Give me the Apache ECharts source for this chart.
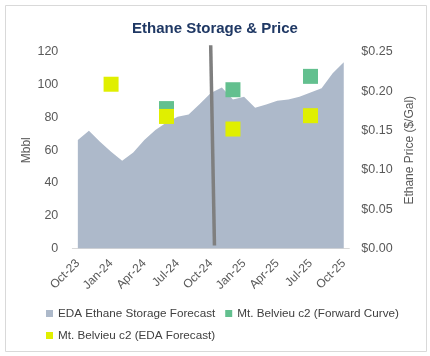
<!DOCTYPE html>
<html>
<head>
<meta charset="utf-8">
<script src="https://cdn.jsdelivr.net/npm/echarts@6/dist/echarts.min.js"></script>
<style>html,body{margin:0;padding:0;background:#fff;}#c{width:430px;height:356px;}</style>
</head>
<body>
<div id="c"></div>
<script>
// ---- data ----
var months = ['Oct-23','Nov-23','Dec-23','Jan-24','Feb-24','Mar-24','Apr-24','May-24','Jun-24','Jul-24','Aug-24','Sep-24','Oct-24','Nov-24','Dec-24','Jan-25','Feb-25','Mar-25','Apr-25','May-25','Jun-25','Jul-25','Aug-25','Sep-25','Oct-25'];
var storage = [66.3, 71.9, 65.2, 59.1, 53.6, 58.7, 66.3, 72.3, 77.0, 80.4, 81.8, 88.3, 95.0, 98.3, 91.0, 92.6, 86.0, 88.0, 90.3, 91.0, 92.6, 95.3, 97.8, 107.0, 113.7];
var fwdMonths = ['Jun-24', 'Dec-24', 'Jul-25'];
var fwdPrices = [0.178, 0.202, 0.219];
var edaMonths = ['Jan-24', 'Jun-24', 'Dec-24', 'Jul-25'];
var edaPrices = [0.209, 0.168, 0.152, 0.169];
var leftTicks = [0, 20, 40, 60, 80, 100, 120];
var rightTicks = [0, 0.05, 0.10, 0.15, 0.20, 0.25];
// divider (month-position units, Mbbl units)
var dividerX = [12.49, 12.83];
var dividerY = [124.1, 1.8];

var fwdData = fwdMonths.map(function (m, i) { return [m, fwdPrices[i]]; });
var edaData = edaMonths.map(function (m, i) { return [m, edaPrices[i]]; });
var dividerData = dividerX.map(function (x, i) { return [x, dividerY[i]]; });

var FONT = 'Liberation Sans';
var chart = echarts.init(document.getElementById('c'), null, { renderer: 'canvas' });
chart.setOption({
  backgroundColor: '#ffffff',
  animation: false,
  textStyle: { fontFamily: FONT },
  title: {
    text: 'Ethane Storage & Price',
    left: 'center', top: 16,
    textStyle: { color: '#1f3864', fontSize: 15, fontWeight: 'bold', fontFamily: FONT }
  },
  graphic: [{
    type: 'rect', shape: { x: 5.5, y: 5.5, width: 421, height: 346 },
    style: { fill: 'none', stroke: '#d9d9d9', lineWidth: 1 }, silent: true, z: -1
  }],
  grid: { left: 72.3, right: 80.7, top: 52, bottom: 107.5 },
  legend: {
    left: 41, top: 302.5, width: 370,
    itemWidth: 7, itemHeight: 7, itemGap: 10,
    icon: 'rect',
    textStyle: { color: '#404040', fontSize: 11.7, fontFamily: FONT },
    data: ['EDA Ethane Storage Forecast', 'Mt. Belvieu c2 (Forward Curve)', 'Mt. Belvieu c2 (EDA Forecast)']
  },
  xAxis: [{
    type: 'category', data: months, boundaryGap: true,
    axisLine: { lineStyle: { color: '#d9d9d9' } },
    axisTick: { interval: 2, length: 4, lineStyle: { color: '#d9d9d9' } },
    axisLabel: { interval: 2, rotate: 45, margin: 13, color: '#595959', fontSize: 12, fontFamily: FONT, showMaxLabel: true },
    splitLine: { show: false }
  }, {
    type: 'value', min: 0, max: 25, show: false
  }],
  yAxis: [{
    type: 'value', min: leftTicks[0], max: leftTicks[leftTicks.length - 1], interval: 20,
    name: 'Mbbl', nameLocation: 'middle', nameGap: 40, nameRotate: 90, nameMoveOverlap: false,
    nameTextStyle: { color: '#595959', fontSize: 12, fontFamily: FONT },
    axisLine: { show: false }, axisTick: { show: false }, splitLine: { show: false },
    axisLabel: { color: '#595959', fontSize: 12.5, margin: 14, fontFamily: FONT }
  }, {
    type: 'value', min: rightTicks[0], max: rightTicks[rightTicks.length - 1], interval: 0.05,
    position: 'right',
    name: 'Ethane Price ($/Gal)', nameLocation: 'middle', nameGap: 53, nameRotate: 90,
    nameTextStyle: { color: '#595959', fontSize: 12, fontFamily: FONT },
    axisLine: { show: false }, axisTick: { show: false }, splitLine: { show: false },
    axisLabel: { color: '#595959', fontSize: 12.5, margin: 12, fontFamily: FONT,
      formatter: function (v) { return '$' + v.toFixed(2); } }
  }],
  series: [{
    name: 'EDA Ethane Storage Forecast', type: 'line', data: storage,
    xAxisIndex: 0, yAxisIndex: 0,
    symbol: 'none', lineStyle: { width: 0 },
    itemStyle: { color: '#adb9ca' },
    areaStyle: { color: '#adb9ca', opacity: 1 }, z: 1
  }, {
    name: 'divider', type: 'line', data: dividerData,
    xAxisIndex: 1, yAxisIndex: 0, clip: false,
    symbol: 'none', lineStyle: { color: '#7f7f7f', width: 3.5 }, z: 2
  }, {
    name: 'Mt. Belvieu c2 (Forward Curve)', type: 'scatter', data: fwdData,
    xAxisIndex: 0, yAxisIndex: 1,
    symbol: 'rect', symbolSize: 15, itemStyle: { color: '#63c08f', opacity: 1 }, z: 3
  }, {
    name: 'Mt. Belvieu c2 (EDA Forecast)', type: 'scatter', data: edaData,
    xAxisIndex: 0, yAxisIndex: 1,
    symbol: 'rect', symbolSize: 15, itemStyle: { color: '#e0ef00', opacity: 1 }, z: 4
  }]
});
</script>
</body>
</html>
